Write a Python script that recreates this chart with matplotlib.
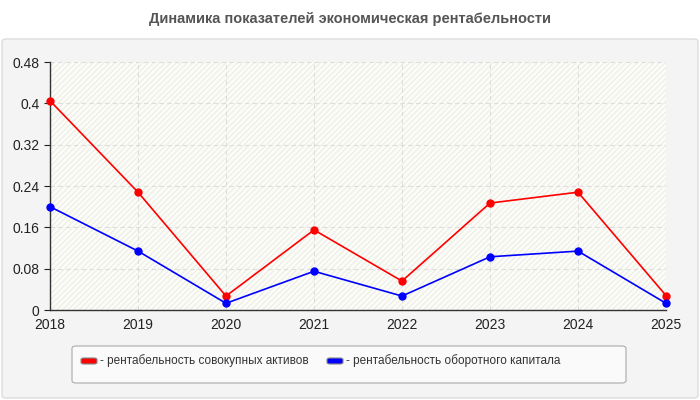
import matplotlib.pyplot as plt
from matplotlib.patches import FancyBboxPatch, Rectangle

years = [2018, 2019, 2020, 2021, 2022, 2023, 2024, 2025]
assets = [0.405, 0.228, 0.027, 0.155, 0.056, 0.207, 0.228, 0.028]
working_capital = [0.200, 0.114, 0.013, 0.075, 0.027, 0.103, 0.114, 0.013]
yticks = [0, 0.08, 0.16, 0.24, 0.32, 0.4, 0.48]
ytick_labels = ["0", "0.08", "0.16", "0.24", "0.32", "0.4", "0.48"]
title = "Динамика показателей экономическая рентабельности"
labels = ["- рентабельность совокупных активов", "- рентабельность оборотного капитала"]
colors = ['red', 'blue']

plt.rcParams['font.family'] = ['Liberation Sans', 'DejaVu Sans']

fig = plt.figure(figsize=(7, 4), dpi=100)
fig.patch.set_facecolor('white')

# gray panel below the title
panel = FancyBboxPatch((2 / 700, 2 / 400), 696 / 700, 359 / 400,
                       boxstyle="round,pad=0,rounding_size=0.006",
                       transform=fig.transFigure, facecolor='#f4f4f4',
                       edgecolor='#dcdcdc', lw=1, zorder=-5)
fig.patches.append(panel)

fig.text(0.5, 1 - 19 / 400, title, ha='center', va='center',
         fontsize=10.5, fontweight='bold', color='#555555')

ax = fig.add_axes([50 / 700, 90 / 400, 616 / 700, 248 / 400])
ax.set_zorder(2)
ax.set_facecolor('#fdfdf8')
ax.add_patch(Rectangle((0, 0), 1, 1, transform=ax.transAxes, facecolor='none',
                       edgecolor='#eeeeea', hatch='//////', lw=0, zorder=0))

ax.plot(years, assets, color=colors[0], lw=1.2, marker='o', ms=5, zorder=3, clip_on=False)
ax.plot(years, working_capital, color=colors[1], lw=1.2, marker='o', ms=5, zorder=3, clip_on=False)

ax.set_xlim(2018, 2025)
ax.set_ylim(0, 0.48)
ax.set_xticks(years)
ax.set_xticklabels([str(y) for y in years])
ax.set_yticks(yticks)
ax.set_yticklabels(ytick_labels)
ax.grid(True, color='#dddddd', linestyle=(0, (4, 3)), lw=0.8)
ax.tick_params(axis='both', labelsize=10, colors='#222222', length=4, width=0.8)
ax.tick_params(axis='x', length=0, pad=6)
for side in ['top', 'right']:
    ax.spines[side].set_visible(False)
for side in ['left', 'bottom']:
    ax.spines[side].set_color('#333333')
    ax.spines[side].set_linewidth(1)

# legend box
lbox = FancyBboxPatch((72 / 700, 17 / 400), 554 / 700, 37 / 400,
                      boxstyle="round,pad=0,rounding_size=0.006",
                      transform=fig.transFigure, facecolor='#fafafa',
                      edgecolor='#aaaaaa', lw=0.8, zorder=1)
fig.patches.append(lbox)
for x0, c, lab in zip([81, 327], colors, labels):
    sw = FancyBboxPatch((x0 / 700, 36 / 400), 16 / 700, 6 / 400,
                        boxstyle="round,pad=0,rounding_size=0.004",
                        transform=fig.transFigure, facecolor=c,
                        edgecolor='#888888', lw=0.8, zorder=2)
    fig.patches.append(sw)
    fig.text((x0 + 19) / 700, 39 / 400, lab, ha='left', va='center',
             fontsize=8.5, color='#333333', zorder=3)

fig.savefig('out.png', dpi=100)
